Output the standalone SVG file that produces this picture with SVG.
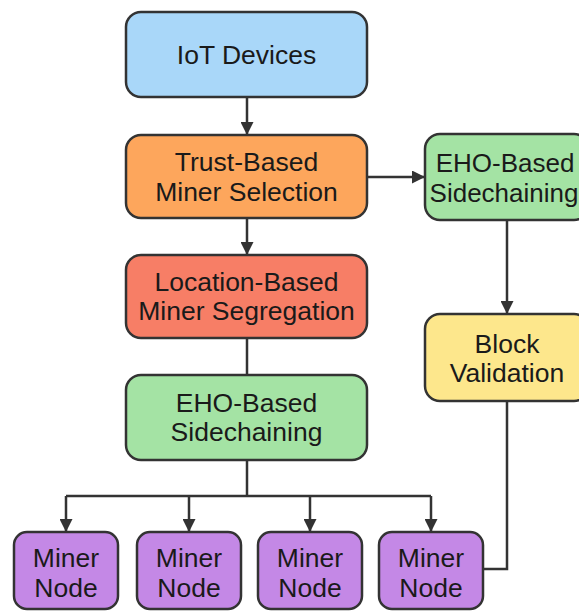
<svg xmlns="http://www.w3.org/2000/svg" width="579" height="611" viewBox="0 0 579 611">
  <style>
    .box { stroke: #333333; stroke-width: 2.5; }
    .lbl { font-family: "Liberation Sans", Arial, sans-serif; font-size: 26.5px; fill: #1a1a1a; text-anchor: middle; }
    .lbl.side { font-size: 26px; }
    .wire { fill: none; stroke: #333333; stroke-width: 2.5; }
    .iot { fill: #a9d7f9; }
    .trust { fill: #fda65c; }
    .loc { fill: #f77e66; }
    .eho { fill: #a4e3a4; }
    .block { fill: #fde78c; }
    .miner { fill: #c488e6; }
  </style>
  <defs>
    <marker id="arrow" viewBox="0 0 12 12" refX="12" refY="6" markerWidth="13" markerHeight="13" markerUnits="userSpaceOnUse" orient="auto">
      <path d="M0,0 L12,6 L0,12 z" fill="#333333"/>
    </marker>
  </defs>
  <rect width="579" height="611" fill="#ffffff"/>

  <g id="connectors">
    <line class="wire" x1="247" y1="97" x2="247" y2="135" marker-end="url(#arrow)"/>
    <line class="wire" x1="367" y1="177" x2="425" y2="177" marker-end="url(#arrow)"/>
    <line class="wire" x1="247" y1="218" x2="247" y2="255" marker-end="url(#arrow)"/>
    <line class="wire" x1="247" y1="338" x2="247" y2="375"/>
    <polyline class="wire" points="247,460 247,496"/>
    <polyline class="wire" points="66,496 431,496"/>
    <line class="wire" x1="66" y1="496" x2="66" y2="532" marker-end="url(#arrow)"/>
    <line class="wire" x1="189" y1="496" x2="189" y2="532" marker-end="url(#arrow)"/>
    <line class="wire" x1="310" y1="496" x2="310" y2="532" marker-end="url(#arrow)"/>
    <line class="wire" x1="431" y1="496" x2="431" y2="532" marker-end="url(#arrow)"/>
    <line class="wire" x1="507" y1="220" x2="507" y2="314" marker-end="url(#arrow)"/>
    <polyline class="wire" points="507,401 507,569 482,569"/>
  </g>

  <g id="iot-devices">
    <rect class="box iot" x="126" y="12" width="241" height="85" rx="15"/>
    <text class="lbl" x="246.5" y="64">IoT Devices</text>
  </g>

  <g id="trust-selection">
    <rect class="box trust" x="126" y="135" width="241" height="83" rx="15"/>
    <text class="lbl" x="246.5" y="171">Trust-Based</text>
    <text class="lbl" x="246.5" y="201">Miner Selection</text>
  </g>

  <g id="location-segregation">
    <rect class="box loc" x="126" y="255" width="241" height="83" rx="15"/>
    <text class="lbl" x="246.5" y="291">Location-Based</text>
    <text class="lbl" x="246.5" y="320">Miner Segregation</text>
  </g>

  <g id="eho-sidechaining-main">
    <rect class="box eho" x="126" y="375" width="241" height="85" rx="15"/>
    <text class="lbl" x="246.5" y="412">EHO-Based</text>
    <text class="lbl" x="246.5" y="441">Sidechaining</text>
  </g>

  <g id="eho-sidechaining-side">
    <rect class="box eho" x="425" y="134" width="164" height="86" rx="15"/>
    <text class="lbl side" x="505" y="172">EHO-Based</text>
    <text class="lbl side" x="504" y="202">Sidechaining</text>
  </g>

  <g id="block-validation">
    <rect class="box block" x="425" y="314" width="164" height="87" rx="15"/>
    <text class="lbl" x="507" y="353">Block</text>
    <text class="lbl" x="507" y="382">Validation</text>
  </g>

  <g id="miner-node-1">
    <rect class="box miner" x="14" y="532" width="104" height="77" rx="13"/>
    <text class="lbl" x="66" y="567">Miner</text>
    <text class="lbl" x="66" y="597">Node</text>
  </g>

  <g id="miner-node-2">
    <rect class="box miner" x="137" y="532" width="104" height="77" rx="13"/>
    <text class="lbl" x="189" y="567">Miner</text>
    <text class="lbl" x="189" y="597">Node</text>
  </g>

  <g id="miner-node-3">
    <rect class="box miner" x="258" y="532" width="104" height="77" rx="13"/>
    <text class="lbl" x="310" y="567">Miner</text>
    <text class="lbl" x="310" y="597">Node</text>
  </g>

  <g id="miner-node-4">
    <rect class="box miner" x="379" y="532" width="104" height="77" rx="13"/>
    <text class="lbl" x="431" y="567">Miner</text>
    <text class="lbl" x="431" y="597">Node</text>
  </g>
</svg>
